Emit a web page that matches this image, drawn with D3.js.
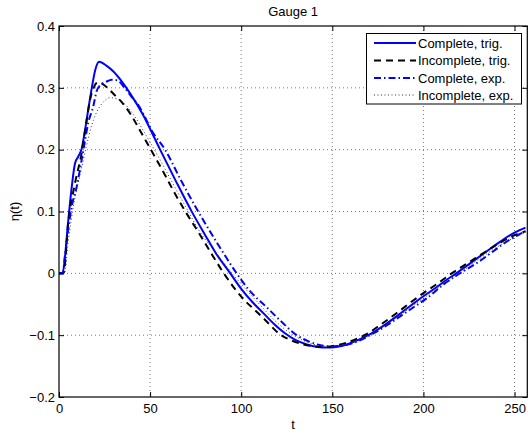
<!DOCTYPE html>
<html>
<head>
<meta charset="utf-8">
<script src="https://cdn.jsdelivr.net/npm/d3@7"></script>
<style>
  html, body { margin: 0; padding: 0; background: #fff; }
  svg { display: block; font-family: "Liberation Sans", Arial, Helvetica, sans-serif; }
</style>
</head>
<body>
<svg id="chart" width="528" height="435"></svg>
<script>
// ---- data ----
const title = "Gauge 1";
const xLabel = "t";
const yLabel = "η(t)";
const xTicks = [0, 50, 100, 150, 200, 250];
const yTicks = [-0.2, -0.1, 0, 0.1, 0.2, 0.3, 0.4];
const seriesNames = ["Complete, trig.", "Incomplete, trig.", "Complete, exp.", "Incomplete, exp."];

const tCompleteTrig = [0, 2, 3.3, 5, 7, 8.8, 10.6, 12.4, 14.3, 16, 18, 20, 22, 26, 30, 34, 39, 46, 55, 64, 73, 80, 86, 94, 100, 106, 112, 118, 124, 130, 136, 142, 147, 152, 158, 164, 171, 178, 186, 194, 200, 206, 212, 218, 226, 234, 242, 250, 256];
const etaCompleteTrig = [0, 0, 0.027, 0.083, 0.14, 0.178, 0.189, 0.201, 0.232, 0.264, 0.3, 0.33, 0.342, 0.336, 0.326, 0.312, 0.291, 0.257, 0.203, 0.15, 0.099, 0.063, 0.033, 0, -0.025, -0.046, -0.064, -0.082, -0.097, -0.108, -0.115, -0.119, -0.12, -0.119, -0.115, -0.108, -0.098, -0.085, -0.068, -0.05, -0.037, -0.025, -0.012, 0, 0.017, 0.034, 0.051, 0.066, 0.074];

const tIncompleteTrig = [0, 2.5, 5, 8.8, 12.4, 15.2, 17, 19, 21.2, 24, 28, 30, 35, 40, 45, 51, 58, 64, 70, 76, 83, 90, 96, 102, 107, 113, 121, 128, 134, 140, 145, 151, 158, 164, 169, 177, 185, 193, 200, 208, 215.5, 224, 232, 240, 248, 256];
const etaIncompleteTrig = [0, 0, 0.08, 0.146, 0.194, 0.248, 0.28, 0.3, 0.309, 0.306, 0.296, 0.29, 0.275, 0.254, 0.228, 0.197, 0.16, 0.127, 0.097, 0.069, 0.035, 0.002, -0.023, -0.044, -0.058, -0.075, -0.098, -0.109, -0.115, -0.118, -0.119, -0.117, -0.112, -0.105, -0.098, -0.082, -0.065, -0.047, -0.032, -0.016, 0, 0.016, 0.031, 0.046, 0.059, 0.068];

const tCompleteExp = [0, 2, 3.3, 5, 7, 9.7, 12.4, 14, 16, 18.8, 20.7, 23, 26, 29, 32, 36, 40, 43.5, 51.7, 58.2, 67, 76.4, 87, 97.5, 104, 114, 122, 130.4, 137, 143, 149, 155, 162, 172, 180, 188, 195, 202, 211, 220, 230, 238, 246, 252, 256];
const etaCompleteExp = [0, 0, 0.03, 0.07, 0.108, 0.14, 0.183, 0.21, 0.243, 0.27, 0.295, 0.305, 0.31, 0.313, 0.312, 0.3, 0.285, 0.272, 0.227, 0.2, 0.15, 0.1, 0.048, 0, -0.026, -0.055, -0.078, -0.1, -0.11, -0.116, -0.118, -0.117, -0.112, -0.098, -0.084, -0.068, -0.054, -0.04, -0.018, 0, 0.018, 0.035, 0.052, 0.062, 0.068];

const tIncompleteExp = [0, 3, 5, 8, 12, 15, 18, 22, 25, 28, 32, 36, 41, 48, 55, 62, 70, 78, 87, 95, 102, 110, 118, 126, 133, 140, 147, 153, 160, 168, 176, 185, 194, 203, 211, 220, 228, 236, 244, 250, 256];
const etaIncompleteExp = [0, 0, 0.05, 0.11, 0.165, 0.205, 0.24, 0.268, 0.279, 0.284, 0.282, 0.274, 0.256, 0.222, 0.186, 0.148, 0.105, 0.064, 0.03, 0, -0.024, -0.05, -0.075, -0.095, -0.107, -0.115, -0.118, -0.117, -0.113, -0.103, -0.09, -0.072, -0.053, -0.034, -0.018, 0, 0.018, 0.034, 0.049, 0.058, 0.066];

// ---- layout ----
const pL = 59, pR = 527.3, pT = 26, pB = 397;
const x = d3.scaleLinear().domain([0, 257]).range([pL, pR]);
const y = d3.scaleLinear().domain([-0.2, 0.4]).range([pB, pT]);

const svg = d3.select("#chart");
const fontSize = 13;

const series = [
  { name: seriesNames[0], t: tCompleteTrig, v: etaCompleteTrig, color: "#0000ff", width: 2, dash: null },
  { name: seriesNames[1], t: tIncompleteTrig, v: etaIncompleteTrig, color: "#000000", width: 2, dash: "7,5" },
  { name: seriesNames[2], t: tCompleteExp, v: etaCompleteExp, color: "#0000ff", width: 2, dash: "7,3,1.5,3" },
  { name: seriesNames[3], t: tIncompleteExp, v: etaIncompleteExp, color: "#333333", width: 1, dash: "1,2.5" }
];

// clip
svg.append("defs").append("clipPath").attr("id", "clip")
  .append("rect").attr("x", pL).attr("y", pT).attr("width", pR - pL).attr("height", pB - pT);

// grid
const grid = svg.append("g").attr("stroke", "#555").attr("stroke-width", 0.8).attr("stroke-dasharray", "1,3");
grid.selectAll("line.gx").data(xTicks.filter(d => d > 0)).join("line")
  .attr("x1", d => x(d)).attr("x2", d => x(d)).attr("y1", pT).attr("y2", pB);
grid.selectAll("line.gy").data(yTicks.filter(d => d > -0.2 && d < 0.4)).join("line")
  .attr("x1", pL).attr("x2", pR).attr("y1", d => y(d)).attr("y2", d => y(d));

// lines
const lineGen = d3.line().x(d => x(d[0])).y(d => y(d[1])).curve(d3.curveMonotoneX);
const plot = svg.append("g").attr("clip-path", "url(#clip)");
series.forEach(s => {
  const pts = s.t.map((t, i) => [t, s.v[i]]);
  plot.append("path").datum(pts)
    .attr("d", lineGen)
    .attr("fill", "none")
    .attr("stroke", s.color)
    .attr("stroke-width", s.width)
    .attr("stroke-dasharray", s.dash)
    .attr("stroke-linejoin", "round");
});

// axes
const fmtY = d => (Math.abs(d) < 1e-9 ? "0" : d3.format(".1f")(d));
function styleAxis(g) {
  g.select(".domain").remove();
  g.selectAll(".tick line").attr("stroke", "#000").attr("stroke-width", 1);
  g.selectAll("text").attr("font-size", fontSize).attr("fill", "#000")
    .attr("font-family", '"Liberation Sans", Arial, sans-serif');
}
svg.append("g").attr("transform", `translate(0,${pB})`)
  .call(d3.axisBottom(x).tickValues(xTicks).tickSize(-5).tickPadding(7).tickFormat(d3.format("d")))
  .call(styleAxis);
svg.append("g").attr("transform", `translate(0,${pT})`)
  .call(d3.axisTop(x).tickValues(xTicks).tickSize(-5).tickFormat(""))
  .call(styleAxis);
svg.append("g").attr("transform", `translate(${pL},0)`)
  .call(d3.axisLeft(y).tickValues(yTicks).tickSize(-5).tickPadding(4).tickFormat(fmtY))
  .call(styleAxis);
svg.append("g").attr("transform", `translate(${pR},0)`)
  .call(d3.axisRight(y).tickValues(yTicks).tickSize(-5).tickFormat(""))
  .call(styleAxis);

// box
svg.append("rect").attr("x", pL).attr("y", pT).attr("width", pR - pL).attr("height", pB - pT)
  .attr("fill", "none").attr("stroke", "#000").attr("stroke-width", 1.2);

// title & labels
svg.append("text").attr("x", (pL + pR) / 2).attr("y", 16).attr("text-anchor", "middle")
  .attr("font-size", fontSize).text(title);
svg.append("text").attr("x", (pL + pR) / 2).attr("y", 429).attr("text-anchor", "middle")
  .attr("font-size", fontSize).text(xLabel);
svg.append("text").attr("transform", `translate(19,${(pT + pB) / 2}) rotate(-90)`)
  .attr("text-anchor", "middle").attr("font-size", fontSize).text(yLabel);

// legend
const lg = svg.append("g");
lg.append("rect").attr("x", 366.5).attr("y", 33.5).attr("width", 155).attr("height", 70.5)
  .attr("fill", "#fff").attr("stroke", "#000").attr("stroke-width", 1);
const rowY = [43, 60.5, 78, 95];
series.forEach((s, i) => {
  lg.append("line").attr("x1", 374).attr("x2", 416).attr("y1", rowY[i]).attr("y2", rowY[i])
    .attr("stroke", s.color).attr("stroke-width", s.width).attr("stroke-dasharray", s.dash);
  lg.append("text").attr("x", 418).attr("y", rowY[i] + 4.5).attr("font-size", fontSize).text(s.name);
});
</script>
</body>
</html>
